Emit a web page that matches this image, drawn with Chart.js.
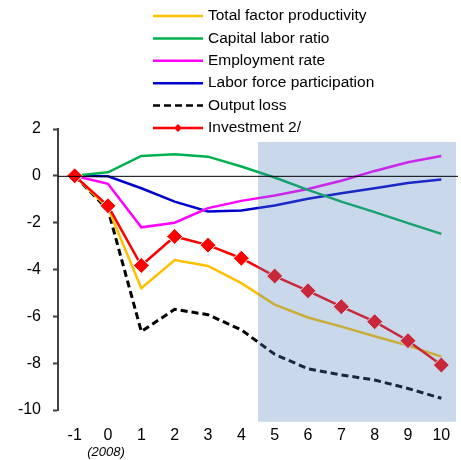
<!DOCTYPE html>
<html>
<head>
<meta charset="utf-8">
<script src="https://cdn.jsdelivr.net/npm/chart.js@4"></script>
<style>
  body { margin: 0; background: #fff; }
  #wrap { width: 461px; height: 460px; position: relative; }
</style>
</head>
<body>
<div id="wrap"><canvas id="growthChart"></canvas></div>
<script>
const years = ['-1', '0', '1', '2', '3', '4', '5', '6', '7', '8', '9', '10'];
const tfp = [0, -1.37, -4.8, -3.6, -3.85, -4.58, -5.5, -6.05, -6.44, -6.85, -7.25, -7.72];
const capitalLabor = [0, 0.15, 0.85, 0.92, 0.82, 0.4, -0.07, -0.6, -1.1, -1.55, -2.02, -2.48];
const employment = [0, -0.34, -2.2, -2.0, -1.38, -1.07, -0.84, -0.56, -0.21, 0.21, 0.58, 0.85];
const laborForce = [0, -0.02, -0.53, -1.1, -1.52, -1.48, -1.27, -0.98, -0.74, -0.53, -0.31, -0.16];
const outputLoss = [0, -1.45, -6.65, -5.7, -5.93, -6.58, -7.62, -8.24, -8.5, -8.72, -9.08, -9.5];
const investment = [0, -1.28, -3.83, -2.59, -2.96, -3.52, -4.28, -4.91, -5.59, -6.23, -7.04, -8.08];
const yTicks = [2, 0, -2, -4, -6, -8, -10];

const FONT = "'Liberation Sans', Arial, sans-serif";

// shaded projection box, legend, zero line and the "(2008)" note
const extras = {
    id: 'extras',
    afterDatasetsDraw(chart) {
        const ctx = chart.ctx;
        const x = chart.scales.x, y = chart.scales.y;
        const area = chart.chartArea;

        // projection shading (drawn over the lines)
        const left = (x.getPixelForValue(5) + x.getPixelForValue(6)) / 2;
        const top = y.getPixelForValue(1.45);
        const bottom = y.getPixelForValue(-10.5);
        ctx.save();
        ctx.fillStyle = 'rgba(81,129,187,0.31)';
        ctx.fillRect(left, top, area.right - 2 - left, bottom - top);

        // zero line
        const y0 = y.getPixelForValue(0);
        ctx.strokeStyle = '#000';
        ctx.lineWidth = 1;
        ctx.beginPath();
        ctx.moveTo(area.left, y0 + 0.5);
        ctx.lineTo(area.right, y0 + 0.5);
        ctx.stroke();

        // year note under 0
        ctx.fillStyle = '#000';
        ctx.font = 'italic 13px ' + FONT;
        ctx.textAlign = 'center';
        ctx.textBaseline = 'middle';
        ctx.fillText('(2008)', x.getPixelForValue(1) - 2, 452);

        // legend
        ctx.font = '15.5px ' + FONT;
        ctx.textAlign = 'left';
        chart.data.datasets.forEach((ds, i) => {
            const ly = 16 + i * 22.4;
            ctx.strokeStyle = ds.borderColor;
            ctx.lineWidth = 2.5;
            ctx.setLineDash(ds.borderDash || []);
            ctx.beginPath();
            ctx.moveTo(153, ly);
            ctx.lineTo(203, ly);
            ctx.stroke();
            ctx.setLineDash([]);
            if (ds.pointRadius > 0) {
                ctx.fillStyle = ds.pointBackgroundColor;
                ctx.beginPath();
                ctx.moveTo(178, ly - 4);
                ctx.lineTo(182, ly);
                ctx.lineTo(178, ly + 4);
                ctx.lineTo(174, ly);
                ctx.closePath();
                ctx.fill();
            }
            ctx.fillStyle = '#000';
            ctx.fillText(ds.label, 208, ly);
        });
        ctx.restore();
    }
};

function series(label, data, color, extra) {
    return Object.assign({
        label: label,
        data: data,
        borderColor: color,
        backgroundColor: color,
        borderWidth: 2.5,
        pointRadius: 0,
        tension: 0,
        fill: false,
        order: 1
    }, extra || {});
}

new Chart(document.getElementById('growthChart'), {
    type: 'line',
    data: {
        labels: years,
        datasets: [
            series('Total factor productivity', tfp, '#FFC000'),
            series('Capital labor ratio', capitalLabor, '#00B050'),
            series('Employment rate', employment, '#FF00FF'),
            series('Labor force participation', laborForce, '#0000CC'),
            series('Output loss', outputLoss, '#000000', { borderDash: [7, 4], borderWidth: 3 }),
            series('Investment 2/', investment, '#FF0000', {
                pointRadius: 8,
                pointStyle: 'rectRot',
                pointBackgroundColor: '#FF0000',
                pointBorderColor: '#FFFFFF',
                pointBorderWidth: 1,
                order: 0
            })
        ]
    },
    options: {
        responsive: true,
        maintainAspectRatio: false,
        animation: false,
        layout: { autoPadding: false, padding: { top: 129, right: 3, left: 0, bottom: 0 } },
        plugins: {
            legend: { display: false },
            tooltip: { enabled: false }
        },
        scales: {
            x: {
                offset: true,
                grid: {
                    display: true,
                    drawOnChartArea: false,
                    drawTicks: true,
                    tickLength: 16,
                    color: 'rgba(0,0,0,0)'
                },
                border: { display: false },
                ticks: {
                    color: '#000',
                    font: { family: FONT, size: 16 },
                    padding: 0,
                    maxRotation: 0,
                    autoSkip: false
                },
                afterFit(scale) { scale.height = 50; }
            },
            y: {
                min: -10,
                max: 2,
                afterBuildTicks(scale) {
                    scale.ticks = yTicks.map(v => ({ value: v }));
                },
                grid: {
                    drawOnChartArea: false,
                    drawTicks: true,
                    tickLength: 5,
                    tickColor: '#404040',
                    tickWidth: 2
                },
                border: { display: true, color: '#404040', width: 2 },
                ticks: {
                    color: '#000',
                    font: { family: FONT, size: 16 },
                    padding: 12
                },
                afterFit(scale) { scale.width = 58; }
            }
        }
    },
    plugins: [extras]
});
</script>
</body>
</html>
